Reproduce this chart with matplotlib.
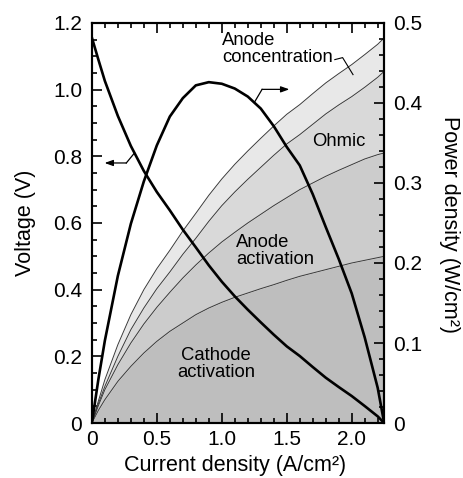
import numpy as np
import matplotlib
matplotlib.use("Agg")
import matplotlib.pyplot as plt
from matplotlib.ticker import MultipleLocator, FuncFormatter

plt.rcParams["font.family"] = ["Liberation Sans", "DejaVu Sans"]

# ── Data ──────────────────────────────────────────────────────────────────────
current = [0, 0.05, 0.1, 0.2, 0.3, 0.4, 0.5, 0.6, 0.7, 0.8, 0.9, 1.0, 1.1, 1.2,
           1.3, 1.4, 1.5, 1.6, 1.7, 1.8, 1.9, 2.0, 2.1, 2.2, 2.25]

# cumulative loss boundaries (V)
cathode_act = [0, 0.038, 0.07, 0.125, 0.17, 0.21, 0.245, 0.275, 0.30, 0.325, 0.345,
               0.362, 0.377, 0.39, 0.403, 0.415, 0.428, 0.44, 0.45, 0.46, 0.47,
               0.48, 0.488, 0.496, 0.50]
anode_act_top = [0, 0.052, 0.10, 0.175, 0.24, 0.297, 0.347, 0.392, 0.435, 0.474, 0.51,
                 0.543, 0.572, 0.6, 0.626, 0.652, 0.676, 0.70, 0.72, 0.74, 0.758,
                 0.775, 0.792, 0.805, 0.81]
ohmic_top = [0, 0.058, 0.11, 0.20, 0.28, 0.345, 0.403, 0.453, 0.506, 0.554, 0.605,
             0.652, 0.693, 0.731, 0.767, 0.803, 0.837, 0.865, 0.896, 0.927, 0.954,
             0.979, 1.007, 1.037, 1.055]
conc_top = [0, 0.066, 0.13, 0.235, 0.325, 0.40, 0.463, 0.518, 0.576, 0.629, 0.683,
            0.732, 0.776, 0.816, 0.854, 0.891, 0.926, 0.955, 0.988, 1.02, 1.048,
            1.075, 1.105, 1.136, 1.155]

voltage = [1.156, 1.09, 1.026, 0.921, 0.831, 0.756, 0.693, 0.638, 0.58, 0.527, 0.473,
           0.424, 0.38, 0.34, 0.302, 0.265, 0.23, 0.201, 0.168, 0.136, 0.108,
           0.081, 0.051, 0.02, 0.0]
power = [0, 0.0545, 0.103, 0.184, 0.249, 0.302, 0.347, 0.383, 0.406, 0.422, 0.426,
         0.424, 0.418, 0.408, 0.393, 0.371, 0.345, 0.322, 0.286, 0.245, 0.205,
         0.162, 0.107, 0.044, 0.0]

region_colors = ["#bebebe", "#cccccc", "#d9d9d9", "#e8e8e8"]
FS_TICK = 15
FS_LAB = 15.5
FS_ANN = 13.3

fig = plt.figure(figsize=(4.64, 4.78), dpi=100)
ax = fig.add_axes([0.198, 0.115, 0.63, 0.837])
ax2 = ax.twinx()

# ── Shaded loss regions ───────────────────────────────────────────────────────
bounds = [np.zeros(len(current)), cathode_act, anode_act_top, ohmic_top, conc_top]
for i in range(4):
    ax.fill_between(current, bounds[i], bounds[i + 1], color=region_colors[i], lw=0, zorder=1)
for b in bounds[1:]:
    ax.plot(current, b, color="#3a3a3a", lw=0.7, zorder=2)

ax.plot(current, voltage, color="k", lw=1.9, zorder=3)
ax2.plot(current, power, color="k", lw=1.9, zorder=3)

ax.set_xlim(0, 2.25)
ax.set_ylim(0, 1.2)
ax2.set_ylim(0, 0.5)

fmt = FuncFormatter(lambda v, _: "0" if abs(v) < 1e-9 else f"{v:.1f}")
ax.xaxis.set_major_locator(MultipleLocator(0.5))
ax.xaxis.set_minor_locator(MultipleLocator(0.1))
ax.yaxis.set_major_locator(MultipleLocator(0.2))
ax.yaxis.set_minor_locator(MultipleLocator(0.05))
ax2.yaxis.set_major_locator(MultipleLocator(0.1))
ax2.yaxis.set_minor_locator(MultipleLocator(0.02))
for a in (ax.xaxis, ax.yaxis, ax2.yaxis):
    a.set_major_formatter(fmt)

ax.tick_params(which="both", direction="in", top=True, right=False, width=1.2)
ax.tick_params(which="major", length=7, labelsize=FS_TICK)
ax.tick_params(axis="y", which="major", pad=7)
ax.tick_params(axis="x", which="major", pad=5)
ax.tick_params(which="minor", length=3.5)
ax2.tick_params(which="both", direction="in", width=1.2)
ax2.tick_params(which="major", length=7, labelsize=FS_TICK, pad=6.5)
ax2.tick_params(which="minor", length=3.5)
for a in (ax, ax2):
    for s in a.spines.values():
        s.set_linewidth(1.5)

# ── Labels ────────────────────────────────────────────────────────────────────
fig.text(26 / 464, 1 - 223 / 478, "Voltage (V)", rotation=90, ha="center", va="center", fontsize=FS_LAB)
fig.text(450 / 464, 1 - 225 / 478, "Power density (W/cm²)", rotation=270, ha="center", va="center", fontsize=FS_LAB)
fig.text(235 / 464, 1 - 465 / 478, "Current density (A/cm²)", ha="center", va="center", fontsize=FS_LAB)

ax.text(1.0, 1.123, "Anode\nconcentration", ha="left", va="center", fontsize=FS_ANN, linespacing=1.0, zorder=4)
ax.text(1.90, 0.844, "Ohmic", ha="center", va="center", fontsize=FS_ANN, zorder=4)
ax.text(1.108, 0.515, "Anode\nactivation", ha="left", va="center", fontsize=FS_ANN, linespacing=1.0, zorder=4)
ax.text(0.954, 0.177, "Cathode\nactivation", ha="center", va="center", fontsize=FS_ANN, linespacing=1.0, zorder=4)

# leader for the concentration band
ax.plot([1.87, 1.93, 2.01], [1.09, 1.096, 1.045], color="k", lw=0.8, zorder=4)

# arrows telling which axis belongs to which curve
arrow = dict(arrowstyle="-|>,head_length=0.5,head_width=0.18", color="k", lw=0.9, shrinkA=0, shrinkB=0)
v_start = np.interp(0.328, current, voltage)
ax.plot([0.328, 0.265], [v_start, 0.78], color="k", lw=0.9, zorder=4)
ax.annotate("", xy=(0.098, 0.78), xytext=(0.265, 0.78), arrowprops=arrow, zorder=4)

p_start = np.interp(1.25, current, power)
ax2.plot([1.25, 1.31], [p_start, 0.417], color="k", lw=0.9, zorder=4)
ax2.annotate("", xy=(1.52, 0.417), xytext=(1.31, 0.417), arrowprops=arrow, zorder=4)

fig.savefig("out.png", dpi=100)
